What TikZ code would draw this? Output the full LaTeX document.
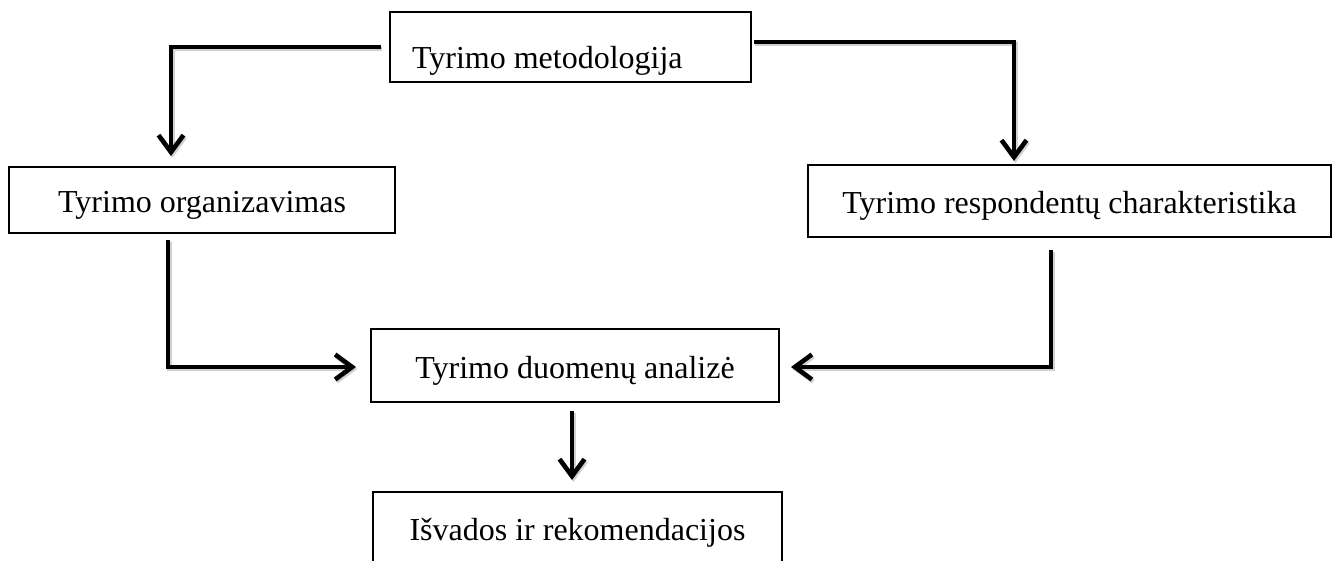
\documentclass[tikz,border=0pt]{standalone}
\usepackage{fontspec}
\setmainfont{Liberation Serif}
\usetikzlibrary{arrows.meta,calc}
\begin{document}
\begin{tikzpicture}[x=0.5pt,y=-0.5pt,
  box/.style={draw=black, line width=1pt, fill=white, inner sep=0pt,
    font=\fontsize{16}{19}\selectfont, text height=14pt, text depth=1.5pt},
  conn/.style={line width=2.3pt, -{Straight Barb[length=8.5pt,width=12.5pt]},
    preaction={draw=black!18, line width=2.3pt, transform canvas={shift={(0.7pt,-1pt)}}}}]
\clip (0,0) rectangle (1333,561);
\fill[white] (0,0) rectangle (1333,561);
\node[box, minimum width=180.5pt, minimum height=35pt, text width=158.5pt, align=flush left, text height=23pt] (top) at (570.5,47) {Tyrimo metodologija};
\node[box, minimum width=193pt, minimum height=33pt] (org) at (202,200) {Tyrimo organizavimas};
\node[box, minimum width=261.5pt, minimum height=36pt] (resp) at (1069.5,201) {Tyrimo respondentų charakteristika};
\node[box, minimum width=204pt, minimum height=36.5pt] (ana) at (575,365.5) {Tyrimo duomenų analizė};
\node[box, minimum width=204.5pt, minimum height=35.5pt] (isv) at (577.5,527.5) {Išvados ir rekomendacijos};
\draw[conn] ($(top.west)+(-8,0)$) -| ($(org.north)+(-31,-10)$);
\draw[conn] ($(top.east)+(2,-5)$) -| ($(resp.north)+(-55.5,-3)$);
\draw[conn] ($(org.south)+(-34,6)$) |- ($(ana.west)+(-14,1.5)$);
\draw[conn] ($(resp.south)+(-18.5,12)$) |- ($(ana.east)+(11,1.5)$);
\draw[conn] ($(ana.south)+(-3,8)$) -- ($(isv.north)+(-5.5,-11)$);
\end{tikzpicture}
\end{document}
